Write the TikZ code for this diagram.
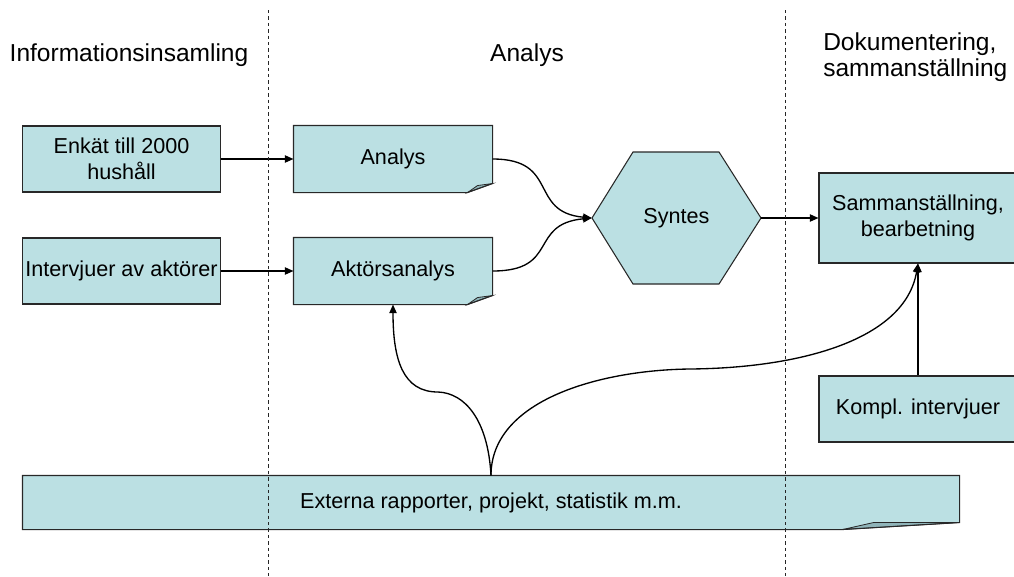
\documentclass[tikz,border=0pt]{standalone}
\usepackage{fontspec}
\setmainfont{Liberation Sans}
\usetikzlibrary{arrows.meta}

\definecolor{boxfill}{RGB}{187,224,227}
\definecolor{flapfill}{RGB}{143,180,185}
\definecolor{edgecol}{RGB}{40,40,40}

% folded lower-right corner of a document box:
% #1 node, #2 inset of the fold along the bottom, #3 inset of the crease,
% #4 rise of the fold on the right side, #5 rise of the crease
\newcommand\docfold[5]{%
  \fill[white] ([shift={(-#2,0)}]#1.south east) -- (#1.south east)
     -- ([shift={(0,-#4)}]#1.south east) -- cycle;
  \filldraw[flap] ([shift={(-#2,0)}]#1.south east)
     -- ([shift={(-#3,-#5)}]#1.south east)
     -- ([shift={(0,-#4)}]#1.south east) -- cycle;
  \draw[edge] (#1.south west) -- ([shift={(-#2,0)}]#1.south east)
     -- ([shift={(0,-#4)}]#1.south east) -- (#1.north east)
     -- (#1.north west) -- cycle;
}

\begin{document}
\begin{tikzpicture}[x=0.75pt,y=-0.75pt,
  box/.style={fill=boxfill, draw=edgecol, line width=0.8pt,
    minimum width=148.5pt, minimum height=49.5pt, inner sep=1pt,
    align=center, font=\fontsize{16.2}{19.5}\selectfont},
  docbox/.style={box, draw=none},
  edge/.style={draw=edgecol, line width=0.8pt},
  flap/.style={fill=flapfill, draw=edgecol, line width=0.6pt},
  head/.style={font=\fontsize{18.4}{19.5}\selectfont, inner sep=0pt},
  arr/.style={draw=black, line width=1pt,
    -{Triangle[length=6.5pt,width=5.5pt]}},
  divider/.style={draw=black!85, line width=0.7pt,
    dash pattern=on 2.6pt off 2.2pt}]

\useasboundingbox (0,0) rectangle (1014,576);

% column headings
\node[head] (h1) at (129,55) {Informationsinsamling};
\node[head] (h2) at (527,55) {Analys};
\node[head, anchor=west, align=left] (h3) at (823,57)
  {Dokumentering,\\sammanställning};

% data collection
\node[box] (enk) at (121.5,159) {Enkät till 2000\\hushåll};
\node[box] (int) at (121.5,271) {Intervjuer av aktörer};

% analysis documents
\node[docbox] (ana) at (393,159) {Analys};
\docfold{ana}{25}{15}{9}{7}
\node[docbox] (akt) at (393,271) {Aktörsanalys};
\docfold{akt}{25}{15}{9}{7}

% synthesis hexagon
\fill[boxfill, draw=edgecol, line width=0.8pt]
  (592,218) -- (633,152) -- (719,152) -- (761,218)
  -- (719,284) -- (633,284) -- cycle;
\node[font=\fontsize{16.2}{19.5}\selectfont, minimum width=126.75pt,
  minimum height=99pt, inner sep=0pt] (syn) at (676.5,218) {Syntes};

% documentation
\node[box, minimum height=67.5pt] (sam) at (918,218)
  {Sammanställning,\\bearbetning};
\node[box] (kom) at (918,409) {Kompl. intervjuer};

% external sources
\node[docbox, minimum width=702pt, minimum height=39.75pt] (ext)
  at (491,502.5) {Externa rapporter, projekt, statistik m.m.};
\docfold{ext}{117}{86}{7}{7}

% connectors
\draw[arr] (enk) -- (ana);
\draw[arr] (int) -- (akt);
\draw[arr] (ana.east) .. controls (560,159) and (528,212) .. (syn.west);
\draw[arr] (akt.east) .. controls (560,271) and (528,224) .. (syn.west);
\draw[arr] (syn.east) -- (sam.west);
\draw[arr] (kom.north) -- (sam.south);
\draw[arr] (ext.north) .. controls (488,420) and (465,393) .. (438,392)
  .. controls (403,392) and (393,360) .. (akt.south);
\draw[arr] (ext.north) .. controls (491,400) and (600,370) .. (690,369)
  .. controls (800,368) and (905,340) .. (sam.south);

% column dividers
\coordinate (d1top) at (268,10);
\coordinate (d1bot) at (268,576);
\coordinate (d2top) at (785,10);
\coordinate (d2bot) at (785,576);
\draw[divider] (d1top) -- (d1bot);
\draw[divider] (d2top) -- (d2bot);
\end{tikzpicture}
\end{document}
